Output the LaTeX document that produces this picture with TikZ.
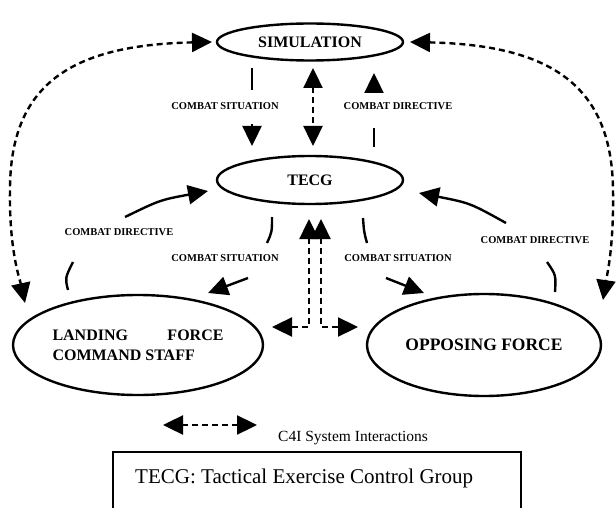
\documentclass[tikz,border=0pt]{standalone}
\usepackage{fontspec}
\setmainfont{Liberation Serif}
\usetikzlibrary{shapes.geometric,arrows.meta}
\begin{document}
\begin{tikzpicture}[x=1pt,y=-1pt,
  ell/.style={ellipse,draw,line width=2.4pt,inner sep=0pt,font=\fontsize{16}{20}\selectfont\bfseries},
  lab/.style={font=\fontsize{10.5}{12}\selectfont\bfseries,inner sep=0pt},
  conn/.style={line width=2.4pt},
  dconn/.style={line width=2.4pt,dash pattern=on 6pt off 4pt},
  >={Triangle[length=20pt,width=19pt]}]
\useasboundingbox (0,0) rectangle (616,508);
% main nodes
\node[ell,minimum width=186pt,minimum height=37pt] (sim) at (310,42) {SIMULATION};
\node[ell,minimum width=186pt,minimum height=48pt] (tecg) at (310,180) {TECG};
\node[ell,minimum width=250pt,minimum height=100pt] (lf) at (138,345) {\parbox{171pt}{LANDING\hfill FORCE\\COMMAND STAFF}};
\node[ell,minimum width=234pt,minimum height=102pt,font=\fontsize{17.5}{20}\selectfont\bfseries] (of) at (484,345) {OPPOSING FORCE};
% labels
\node[lab] (cs1) at (225,106) {COMBAT SITUATION};
\node[lab] (cd1) at (398,106) {COMBAT DIRECTIVE};
\node[lab] (cd2) at (119,232) {COMBAT DIRECTIVE};
\node[lab] (cs2) at (225,258) {COMBAT SITUATION};
\node[lab] (cs3) at (398,258) {COMBAT SITUATION};
\node[lab] (cd3) at (535,240) {COMBAT DIRECTIVE};
% coordinates
\coordinate (s1a) at (252,68);  \coordinate (s1b) at (252,90);
\coordinate (s1c) at (252,124); \coordinate (s1d) at (252,146);
\coordinate (m1a) at (313,68);  \coordinate (m1b) at (313,146);
\coordinate (d1a) at (374,92);  \coordinate (d1b) at (374,73);
\coordinate (d1c) at (374,128); \coordinate (d1d) at (374,147);
\coordinate (ld1) at (68,290);  \coordinate (ld2) at (73,262);
\coordinate (ld3) at (125,217); \coordinate (ld4) at (208,191);
\coordinate (ls1) at (272,217); \coordinate (ls2) at (267,243);
\coordinate (ls3) at (248,278); \coordinate (ls4) at (208,293);
\coordinate (rs1) at (363,218); \coordinate (rs2) at (367,243);
\coordinate (rs3) at (386,278); \coordinate (rs4) at (424,293);
\coordinate (rd1) at (555,292); \coordinate (rd2) at (547,262);
\coordinate (rd3) at (506,223); \coordinate (rd4) at (419,193);
\coordinate (cl1) at (309,219); \coordinate (cl2) at (309,327); \coordinate (cl3) at (272,327);
\coordinate (cr1) at (321,219); \coordinate (cr2) at (321,327); \coordinate (cr3) at (358,327);
\coordinate (bl1) at (212,42);  \coordinate (bl2) at (10,190);  \coordinate (bl3) at (25,303);
\coordinate (br1) at (410,42);  \coordinate (br2) at (613,190); \coordinate (br3) at (603,300);
% SIMULATION <-> TECG
\draw[conn] (s1a) -- (s1b);
\draw[conn,->] (s1c) -- (s1d);
\draw[dconn,<->] (m1a) -- (m1b);
\draw[conn,->] (d1a) -- (d1b);
\draw[conn] (d1c) -- (d1d);
% TECG <-> Landing force
\draw[conn] (ld1) .. controls (65,278) .. (ld2);
\draw[conn,->] (ld3) .. controls (160,200) .. (ld4);
\draw[conn] (ls1) .. controls (272,232) .. (ls2);
\draw[conn,->] (ls3) -- (ls4);
% TECG <-> Opposing force
\draw[conn] (rs1) .. controls (364,232) .. (rs2);
\draw[conn,->] (rs3) -- (rs4);
\draw[conn] (rd1) .. controls (556,275) .. (rd2);
\draw[conn,->] (rd3) .. controls (470,203) .. (rd4);
% C4I interactions
\draw[dconn,<->] (cl1) -- (cl2) -- (cl3);
\draw[dconn,<->] (cr1) -- (cr2) -- (cr3);
\draw[dconn,<->] (bl1) .. controls (70,45) and (10,85) .. (bl2) .. controls (9,250) and (20,280) .. (bl3);
\draw[dconn,<->] (br1) .. controls (550,45) and (612,85) .. (br2) .. controls (614,250) and (606,280) .. (br3);
% legend
\coordinate (lg1) at (163,425); \coordinate (lg2) at (257,425);
\draw[dconn,<->] (lg1) -- (lg2);
\node[inner sep=0pt,anchor=west,font=\fontsize{15.5}{18}\selectfont] (lgt) at (278,438) {C4I System Interactions};
\draw[line width=1.3pt] (113,512) -- (113,452) -- (521,452) -- (521,512);
\node[inner sep=0pt,anchor=west,font=\fontsize{21}{24}\selectfont] (note) at (135,478) {TECG: Tactical Exercise Control Group};
\end{tikzpicture}
\end{document}
